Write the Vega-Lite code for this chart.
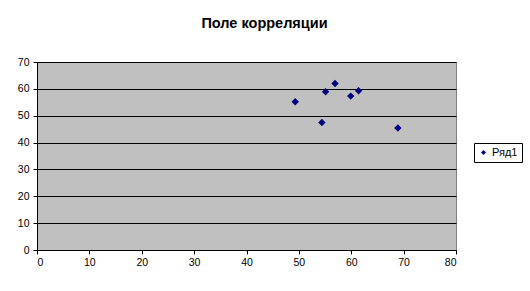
{
  "$schema": "https://vega.github.io/schema/vega-lite/v6.json",
  "width": 419,
  "height": 188,
  "autosize": "none",
  "padding": {"left": 37, "top": 62, "right": 74, "bottom": 41},
  "background": "white",
  "title": {
    "text": "Поле корреляции",
    "font": "Liberation Sans",
    "fontSize": 14.5,
    "fontWeight": "bold",
    "color": "black",
    "anchor": "middle",
    "dx": 18,
    "offset": 26
  },
  "data": {
    "values": [
      {"x": 49.3, "y": 55.2, "series": "Ряд1"},
      {"x": 54.4, "y": 47.5, "series": "Ряд1"},
      {"x": 55.1, "y": 58.9, "series": "Ряд1"},
      {"x": 56.9, "y": 62.0, "series": "Ряд1"},
      {"x": 59.9, "y": 57.3, "series": "Ряд1"},
      {"x": 61.4, "y": 59.3, "series": "Ряд1"},
      {"x": 68.9, "y": 45.4, "series": "Ряд1"}
    ]
  },
  "mark": {"type": "point", "shape": "diamond", "filled": true, "size": 55, "opacity": 1},
  "encoding": {
    "x": {
      "field": "x",
      "type": "quantitative",
      "scale": {"domain": [0, 80], "nice": false, "zero": true},
      "axis": {"values": [0, 10, 20, 30, 40, 50, 60, 70, 80], "grid": false, "title": null}
    },
    "y": {
      "field": "y",
      "type": "quantitative",
      "scale": {"domain": [0, 70], "nice": false},
      "axis": {"values": [0, 10, 20, 30, 40, 50, 60, 70], "grid": true, "title": null}
    },
    "color": {
      "field": "series",
      "type": "nominal",
      "scale": {"range": ["#000080"]},
      "legend": {
        "title": null,
        "orient": "none",
        "legendX": 437,
        "legendY": 81,
        "symbolType": "diamond",
        "symbolSize": 25,
        "labelFont": "Liberation Sans",
        "labelFontSize": 11,
        "labelColor": "black",
        "strokeColor": "black",
        "fillColor": "white",
        "padding": 4,
        "cornerRadius": 0,
        "symbolOffset": 0,
        "labelOffset": 3
      }
    }
  },
  "config": {
    "view": {"fill": "#C0C0C0", "stroke": "#808080", "strokeWidth": 1},
    "axis": {
      "domainColor": "black",
      "domainWidth": 1,
      "tickColor": "black",
      "tickSize": 4,
      "gridColor": "black",
      "gridWidth": 1,
      "gridOpacity": 1,
      "labelFont": "Liberation Sans",
      "labelFontSize": 10.5,
      "labelColor": "black",
      "labelPadding": 3
    },
    "axisY": {"labelPadding": 4}
  }
}
